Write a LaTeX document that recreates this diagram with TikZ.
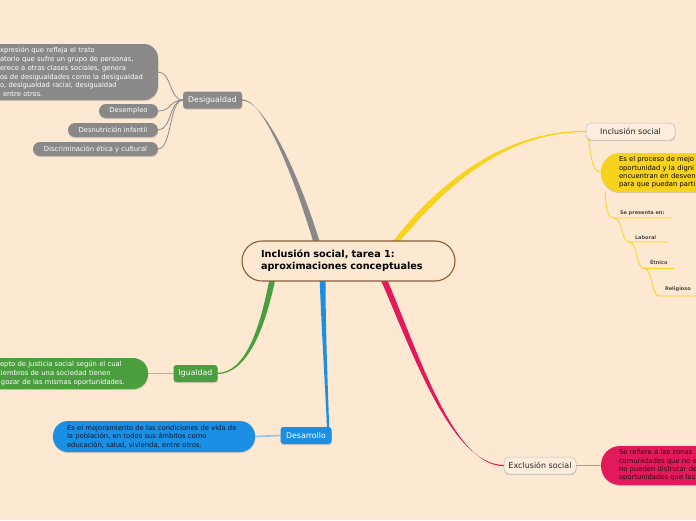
\documentclass[tikz,border=0pt]{standalone}
\usepackage{fontspec}
\setmainfont{DejaVu Sans}
\usetikzlibrary{shadows,calc}
\definecolor{bg}{HTML}{FDE8D2}
\definecolor{cgray}{HTML}{898989}
\definecolor{cgreen}{HTML}{4A9E3E}
\definecolor{cblue}{HTML}{1A8FE3}
\definecolor{cyellow}{HTML}{F8D31E}
\definecolor{cred}{HTML}{E2195B}
\definecolor{cbrown}{HTML}{8C5D32}
\definecolor{lightbox}{HTML}{FEEDDD}
\definecolor{lgreen}{HTML}{93C886}
\definecolor{lblue}{HTML}{8EC6EF}
\definecolor{lred}{HTML}{F07AA0}
\definecolor{navy}{HTML}{101830}
\definecolor{darkred}{HTML}{2A0A14}
\pgfdeclarelayer{bglayer}
\pgfdeclarelayer{conn}
\pgfsetlayers{bglayer,conn,main}
\tikzset{
  every node/.style={inner sep=0pt, outer sep=0pt},
  mainnode/.style={draw=cbrown, line width=1.1pt, fill=bg, rounded corners=20pt,
    minimum width=213pt, minimum height=40pt, text width=175pt, align=left,
    font=\fontsize{9.7}{12}\selectfont\bfseries, text=black},
  shad/.style={drop shadow={shadow xshift=0.3pt, shadow yshift=-1.2pt, opacity=0.3}},
  branchnode/.style={shad, rounded corners=3pt, minimum height=17pt,
    font=\fontsize{7.8}{9}\selectfont, text=white},
  lightnode/.style={shad, draw=black!25, line width=0.5pt, fill=lightbox, rounded corners=5pt,
    minimum height=17pt, font=\fontsize{8}{9}\selectfont, text=black!85},
  pillnode/.style={shad, fill=cgray, rounded corners=7pt, minimum height=14pt,
    text=white, font=\fontsize{6.8}{8}\selectfont},
  textbox/.style={shad, align=left, font=\fontsize{6.8}{8.6}\selectfont},
  tiny/.style={font=\fontsize{5}{6}\selectfont\bfseries, text=black!70, anchor=base west},
  thin/.style={line width=0.8pt},
}
\begin{document}
\begin{tikzpicture}[x=1pt,y=-1pt]
\useasboundingbox (0,0) rectangle (696,520);
\begin{pgfonlayer}{bglayer}
\fill[bg] (0,0) rectangle (696,520);
\end{pgfonlayer}

% central node
\node[mainnode] (ctr) at (348.5,261) {Inclusión social, tarea 1:\\aproximaciones conceptuales};

% Desigualdad branch
\node[branchnode, fill=cgray, minimum width=59pt] (desig) at (212.5,100) {Desigualdad};
\node[textbox, fill=cgray, text=white, rounded corners=14pt, minimum width=198pt,
  minimum height=56pt, text width=118pt, font=\fontsize{6.8}{8.8}\selectfont] (gbox) at (59,72)
  {\mbox{xpresión que refleja el trato}\\
   \mbox{atorio que sufre un grupo de personas,}\\
   \mbox{erece a otras clases sociales, genera}\\
   \mbox{os de desigualdades como la desigualdad}\\
   \mbox{o, desigualdad racial, desigualdad}\\
   \mbox{\hspace{3pt}entre otros.}};
\node[pillnode, minimum width=59pt] (desem) at (128.5,111) {Desempleo};
\node[pillnode, minimum width=90pt] (desnu) at (113,130) {Desnutrición infantil};
\node[pillnode, minimum width=125pt] (discr) at (95.5,149) {Discriminación ética y cultural};

% Igualdad branch
\node[branchnode, fill=cgreen, minimum width=44pt] (igual) at (195.5,373.5) {Igualdad};
\node[textbox, fill=cgreen, text=white, rounded corners=15pt, minimum width=178pt,
  minimum height=31pt, text width=118pt] (grbox) at (59,373.5)
  {\mbox{epto de justicia social según el cual}\\
   \mbox{\hspace{1pt}iembros de una sociedad tienen}\\
   \mbox{\hspace{1pt}gozar de las mismas oportunidades.}};

% Desarrollo branch
\node[branchnode, fill=cblue, minimum width=51pt] (desa) at (306,435.5) {Desarrollo};
\node[textbox, fill=cblue, text=navy, rounded corners=15pt, minimum width=202pt,
  minimum height=31pt, text width=174pt] (blbox) at (154,436.5)
  {\mbox{Es el mejoramiento de las condiciones de vida de}\\
   \mbox{la población, en todos sus ámbitos como}\\
   \mbox{educación, salud, vivienda, entre otros.}};

% Inclusion social branch
\node[lightnode, minimum width=89pt] (incl) at (630.5,131.5) {Inclusión social};
\node[textbox, fill=cyellow, text=black, rounded corners=19pt, minimum width=140pt,
  minimum height=39pt, text width=104pt, font=\fontsize{6.8}{8.4}\selectfont] (ybox) at (671,172.5)
  {\mbox{Es el proceso de mejo}\\
   \mbox{oportunidad y la digni}\\
   \mbox{encuentran en desven}\\
   \mbox{para que puedan parti}};
\node[tiny] (sepres) at (620,214) {Se presenta en:};
\node[tiny] (labo) at (635,239.5) {Laboral};
\node[tiny] (etni) at (650,264.5) {Étnico};
\node[tiny] (reli) at (665,290.5) {Religioso};
\coordinate (u1a) at (614,218); \coordinate (u1b) at (672,218);
\coordinate (u2a) at (629,242); \coordinate (u2b) at (669,242);
\coordinate (u3a) at (644,268.5); \coordinate (u3b) at (674,268.5);
\coordinate (u4a) at (659,296); \coordinate (u4b) at (700,296);
\coordinate (ybl) at (605,191);

% Exclusion social branch
\node[lightnode, minimum width=72pt] (excl) at (540,465.5) {Exclusión social};
\node[textbox, fill=cred, text=darkred, rounded corners=19pt, minimum width=140pt,
  minimum height=39pt, text width=104pt, font=\fontsize{6.8}{8.4}\selectfont] (rbox) at (671,465.5)
  {\mbox{Se refiere a las zonas}\\
   \mbox{comunidades que no e}\\
   \mbox{no pueden disfrutar de}\\
   \mbox{oportunidades que las}};

\begin{pgfonlayer}{conn}
% tapered main connectors
\fill[cgray] ([yshift=0.6pt]desig.east) .. controls (262,98.4) and (292,170) .. (314.5,246)
  -- (321,246) .. controls (298,170) and (263,99.6) .. ([yshift=-0.6pt]desig.east) -- cycle;
\fill[cyellow] (389.5,246) .. controls (433,188) and (500,130.4) .. ([yshift=0.6pt]incl.west)
  -- ([yshift=-0.6pt]incl.west) .. controls (502,131.6) and (440,192) .. (396,246) -- cycle;
\fill[cgreen] (270,276) .. controls (260,330) and (245,372.4) .. ([yshift=0.6pt]igual.east)
  -- ([yshift=-0.6pt]igual.east) .. controls (247,373.6) and (265,330) .. (276,276) -- cycle;
\fill[cblue] (319.5,276) .. controls (322,340) and (326,400) .. ($(desa.north east)+(-4.5,3)$)
  -- ($(desa.north east)+(-2.3,3)$) .. controls (328.5,400) and (325.5,340) .. (325.5,276) -- cycle;
\fill[cred] (379,276) .. controls (410,345) and (450,465.4) .. ([yshift=0.6pt]excl.west)
  -- ([yshift=-0.6pt]excl.west) .. controls (452,466.6) and (416,345) .. (385.5,276) -- cycle;

% Desigualdad children
\draw[cgray, thin] (desig.west) .. controls +(-14,0) and +(14,0) .. (gbox.east);
\draw[cgray, thin] (desig.west) .. controls +(-14,0) and +(14,0) .. (desem.east);
\draw[cgray, thin] (desig.west) .. controls +(-14,0) and +(14,0) .. (desnu.east);
\draw[cgray, thin] (desig.west) .. controls +(-14,0) and +(14,0) .. (discr.east);

% other children
\draw[lgreen, line width=1.6pt] (igual.west) -- (grbox.east);
\draw[lblue, line width=1.6pt] (desa.west) -- (blbox.east);
\draw[lred, line width=1.4pt] (excl.east) -- (rbox.west);

% Inclusion social sub-tree
\draw[cyellow, thin] (incl.west) .. controls (591,140) and (589,172.5) .. (ybox.west);
\draw[cyellow, thin] (ybl) .. controls (606,210) and (608,218) .. (u1a) -- (u1b);
\draw[cyellow, thin] (u1a) .. controls (623,218) and (621,242) .. (u2a) -- (u2b);
\draw[cyellow, thin] (u2a) .. controls (638,242) and (636,268.5) .. (u3a) -- (u3b);
\draw[cyellow, thin] (u3a) .. controls (653,268.5) and (651,296) .. (u4a) -- (u4b);
\end{pgfonlayer}
\end{tikzpicture}
\end{document}
